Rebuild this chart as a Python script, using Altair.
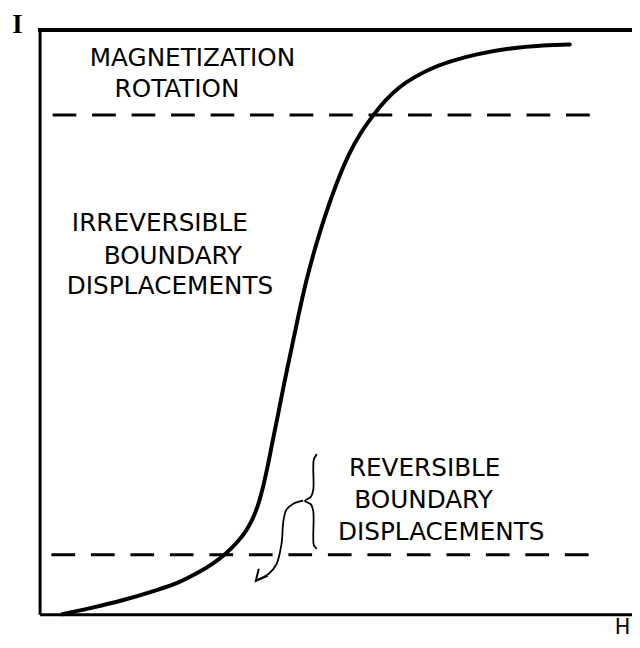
import altair as alt
import pandas as pd

# Magnetization curve (H, I), arbitrary units 0-100
curve_h = [3.83, 8.33, 13.83, 19.5, 23.33, 26.67, 29.17, 31.33, 33.33, 34.67, 35.83,
           36.83, 37.67, 38.5, 39.33, 40.17, 41.33, 42.83, 45.0, 47.17, 50.0, 52.17,
           54.17, 56.17, 58.33, 60.83, 63.33, 66.67, 70.0, 73.83, 79.5, 85.0, 89.5]
curve_i = [0.0, 1.01, 2.36, 4.05, 5.41, 7.09, 8.61, 10.3, 12.33, 14.02, 16.05,
           18.58, 21.62, 25.34, 29.56, 33.78, 39.7, 46.96, 56.93, 64.86, 73.31, 78.55,
           82.26, 85.14, 87.84, 90.2, 91.89, 93.58, 94.76, 95.78, 96.79, 97.3, 97.47]

# Dashed boundaries between the regions
level_i = [85.4, 10.2]
level_h0 = [2.2, 2.0]
level_h1 = [93.0, 94.7]

# Region labels
label_text = ["MAGNETIZATION", "ROTATION",
              "IRREVERSIBLE", "BOUNDARY", "DISPLACEMENTS",
              "REVERSIBLE", "BOUNDARY", "DISPLACEMENTS"]
label_h = [25.8, 23.2, 20.3, 22.5, 22.0, 65.0, 64.8, 67.8]
label_i = [95.1, 89.9, 66.9, 61.3, 56.1, 25.0, 19.6, 14.0]

# Curly brace and curved arrow
brace_h = [46.8, 46.3, 46.2, 46.2, 45.8, 44.8, 45.8, 46.2, 46.2, 46.3, 46.8]
brace_i = [27.4, 26.5, 25.0, 21.3, 20.1, 19.4, 18.8, 17.6, 13.2, 11.8, 11.2]
arrow_h = [44.5, 42.83, 41.67, 41.17, 40.83, 40.0, 38.67, 36.5]
arrow_i = [19.43, 18.92, 17.9, 16.05, 12.0, 8.6, 6.93, 5.74]
head_h = [37.0, 36.5, 38.5]
head_i = [7.77, 5.74, 6.59]

curve_df = pd.DataFrame({"H": curve_h, "I": curve_i})
level_df = pd.DataFrame({"I": level_i, "h0": level_h0, "h1": level_h1})
label_df = pd.DataFrame({"text": label_text, "H": label_h, "I": label_i})
path_df = pd.DataFrame({
    "H": brace_h + arrow_h,
    "I": brace_i + arrow_i,
    "part": ["brace"] * len(brace_h) + ["arrow"] * len(arrow_h),
    "k": list(range(len(brace_h))) + list(range(len(arrow_h))),
})
head_df = pd.DataFrame({"H": head_h, "I": head_i, "k": list(range(len(head_h)))})

xs = alt.Scale(domain=[0, 100], nice=False, zero=False)
ys = alt.Scale(domain=[0, 100], nice=False, zero=False)

x_axis = alt.Axis(title="H", labels=False, ticks=False, grid=False,
                  domainWidth=3, domainColor="black",
                  titleFont="DejaVu Sans", titleFontSize=21, titleFontWeight="normal",
                  titleColor="black", titleX=590, titleY=2,
                  titleAlign="center", titleBaseline="top")
y_axis = alt.Axis(title="I", labels=False, ticks=False, grid=False,
                  domainWidth=3, domainColor="black",
                  titleFont="Liberation Serif", titleFontSize=27, titleFontWeight="bold",
                  titleColor="black", titleAngle=0, titleX=-23, titleY=-5,
                  titleAlign="center", titleBaseline="middle")

curve = alt.Chart(curve_df).mark_line(
    color="black", strokeWidth=4, interpolate="catmull-rom", strokeCap="round"
).encode(
    x=alt.X("H:Q", scale=xs, axis=x_axis),
    y=alt.Y("I:Q", scale=ys, axis=y_axis),
)

levels = alt.Chart(level_df).mark_rule(
    color="black", strokeWidth=3, strokeDash=[24, 16]
).encode(
    x=alt.X("h0:Q", scale=xs), x2="h1:Q", y=alt.Y("I:Q", scale=ys)
)

top = alt.Chart(curve_df).mark_rule(color="black", strokeWidth=3, strokeCap="square").encode(
    x=alt.datum(0), x2=alt.datum(100), y=alt.datum(100)
)

labels = alt.Chart(label_df).mark_text(
    font="DejaVu Sans", fontSize=25, color="black", align="center", baseline="middle"
).encode(
    x=alt.X("H:Q", scale=xs), y=alt.Y("I:Q", scale=ys), text="text:N"
)

paths = alt.Chart(path_df).mark_line(
    color="black", strokeWidth=1.8, interpolate="catmull-rom"
).encode(
    x=alt.X("H:Q", scale=xs), y=alt.Y("I:Q", scale=ys),
    detail="part:N", order="k:Q"
)

head = alt.Chart(head_df).mark_line(color="black", strokeWidth=2).encode(
    x=alt.X("H:Q", scale=xs), y=alt.Y("I:Q", scale=ys), order="k:Q"
)

chart = alt.layer(top, levels, curve, paths, head, labels).properties(
    width=600, height=592,
    autosize=alt.AutoSizeParams(type="none"),
    padding={"left": 32, "top": 18, "right": 0, "bottom": 20},
    background="white",
).configure_view(stroke="transparent")

chart.save("out.html", embed_options={"renderer": "svg", "actions": False})
